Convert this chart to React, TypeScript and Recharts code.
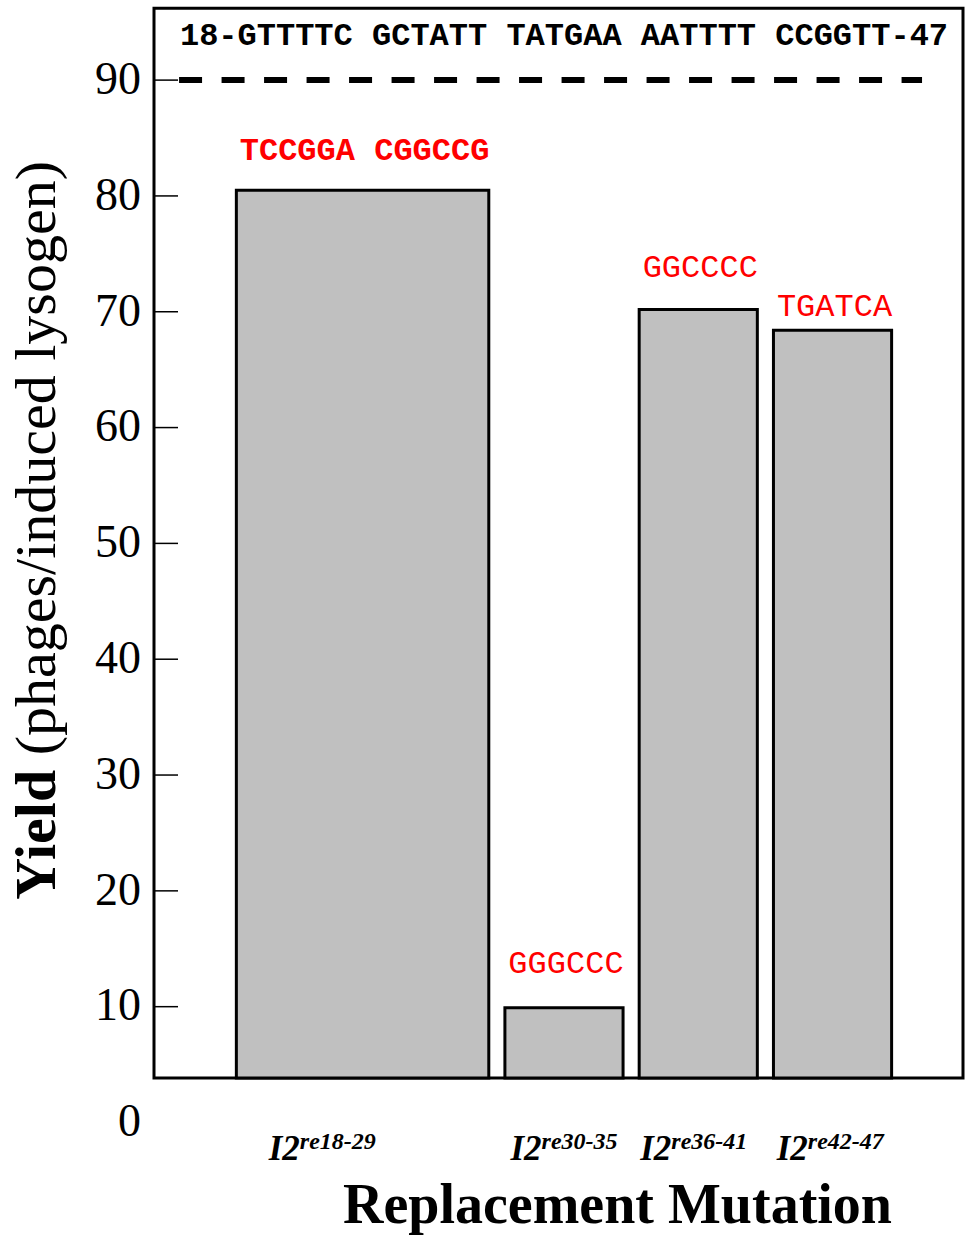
import { ComposedChart, Line, XAxis, YAxis, ReferenceArea } from 'recharts';

// replacement mutations (base name + superscript)
const mutationBase = ['I2', 'I2', 'I2', 'I2'];
const mutationSup = ['re18-29', 're30-35', 're36-41', 're42-47'];
const spanStart = [18, 30, 36, 42];
const spanEnd = [29, 35, 41, 47];
const yieldValues = [80.5, 9.9, 70.2, 68.4];
const replacedSeq = ['TCCGGA CGGCCG', 'GGGCCC', 'GGCCCC', 'TGATCA'];

// wild type
const wildTypeSeq = '18-GTTTTC GCTATT TATGAA AATTTT CCGGTT-47';
const wildTypeYield = 90;
const wildTypeSpan = [15.3, 48.5];

const yTicks = [0, 10, 20, 30, 40, 50, 60, 70, 80, 90];
const xTickPos = [21.7, 32.5, 38.3, 44.4];

// axis ranges
const xMin = 14.18;
const xMax = 50.33;
const yFloor = 3.84;
const yCeil = 96.2;

const BAR_PAD = 0.14;
const labelLift = [30, 35, 32, 14];
const labelBold = [true, false, false, false];

const serif = '"Liberation Serif", "Times New Roman", serif';
const mono = '"Liberation Mono", "Courier New", monospace';

const wtData = wildTypeSpan.map((pos) => ({ pos, wt: wildTypeYield }));

const YTick = ({ x, y, payload }: any) => (
  <g>
    {payload.value >= yFloor && (
      <line x1={x} x2={x + 24} y1={y} y2={y} stroke="#000" strokeWidth={1.5} />
    )}
    <text x={x - 13} y={y} dy="0.3em" textAnchor="end" fontFamily={serif} fontSize={46} fill="#000">
      {payload.value}
    </text>
  </g>
);

const XTick = ({ x, y, payload }: any) => {
  const i = xTickPos.indexOf(payload.value);
  if (i < 0) return null;
  return (
    <text x={x} y={y + 37.5} textAnchor="middle" fontFamily={serif} fontWeight="bold" fontStyle="italic" fill="#000">
      <tspan fontSize={35}>{mutationBase[i]}</tspan>
      <tspan fontSize={24} dy={-11}>{mutationSup[i]}</tspan>
    </text>
  );
};

export default function App() {
  return (
    <div style={{ position: 'absolute', left: 0, top: 0, width: 966, height: 1237, background: '#fff' }}>
      <ComposedChart width={966} height={1237} data={wtData} margin={{ top: 8.3, right: 3, bottom: 54.5, left: 0 }}>
        <XAxis
          dataKey="pos"
          type="number"
          domain={[xMin, xMax]}
          allowDataOverflow
          ticks={xTickPos}
          interval={0}
          tick={<XTick />}
          axisLine={false}
          tickLine={false}
          tickSize={0}
          tickMargin={0}
          height={60}
          label={{
            content: ({ viewBox }: any) => (
              <text
                x={viewBox.x + viewBox.width / 2 + 59}
                y={viewBox.y + 100.5}
                textAnchor="middle"
                fontFamily={serif}
                fontWeight="bold"
                fontSize={56}
                fill="#000"
              >
                Replacement Mutation
              </text>
            ),
          }}
        />
        <YAxis
          type="number"
          domain={[0, yCeil]}
          allowDataOverflow
          ticks={yTicks}
          interval={0}
          tick={<YTick />}
          axisLine={false}
          tickLine={false}
          tickSize={0}
          tickMargin={0}
          width={154}
          label={{
            content: ({ viewBox }: any) => {
              const cx = 55;
              const cy = viewBox.y + viewBox.height / 2 - 35;
              return (
                <text
                  x={cx}
                  y={cy}
                  transform={`rotate(-90 ${cx} ${cy})`}
                  textAnchor="middle"
                  fontFamily={serif}
                  fontSize={58}
                  fill="#000"
                >
                  <tspan fontWeight="bold">Yield </tspan>
                  <tspan>(phages/induced lysogen)</tspan>
                </text>
              );
            },
          }}
        />
        <ReferenceArea
          x1={xMin}
          x2={xMax}
          y1={yFloor}
          y2={yCeil}
          fill="none"
          stroke="#000"
          strokeWidth={3}
          label={(props: any) => {
            const vb = props.viewBox;
            return (
              <text
                x={vb.x + vb.width / 2 + 5.5}
                y={vb.y + 37}
                textAnchor="middle"
                fontFamily={mono}
                fontWeight="bold"
                fontSize={32}
                fill="#000"
              >
                {wildTypeSeq}
              </text>
            );
          }}
        />
        {yieldValues.map((v, i) => (
          <ReferenceArea
            key={i}
            x1={spanStart[i] - BAR_PAD}
            x2={spanEnd[i] + BAR_PAD}
            y1={yFloor}
            y2={v}
            fill="#c0c0c0"
            fillOpacity={1}
            stroke="#000"
            strokeWidth={3}
            label={(props: any) => {
              const vb = props.viewBox;
              return (
                <text
                  x={vb.x + vb.width / 2 + 2}
                  y={vb.y - labelLift[i]}
                  textAnchor="middle"
                  fontFamily={mono}
                  fontWeight={labelBold[i] ? 'bold' : 'normal'}
                  fontSize={32}
                  fill="#ff0000"
                >
                  {replacedSeq[i]}
                </text>
              );
            }}
          />
        ))}
        <Line
          dataKey="wt"
          stroke="#000"
          strokeWidth={6}
          strokeDasharray="23 19.5"
          dot={false}
          activeDot={false}
          isAnimationActive={false}
        />
      </ComposedChart>
    </div>
  );
}
